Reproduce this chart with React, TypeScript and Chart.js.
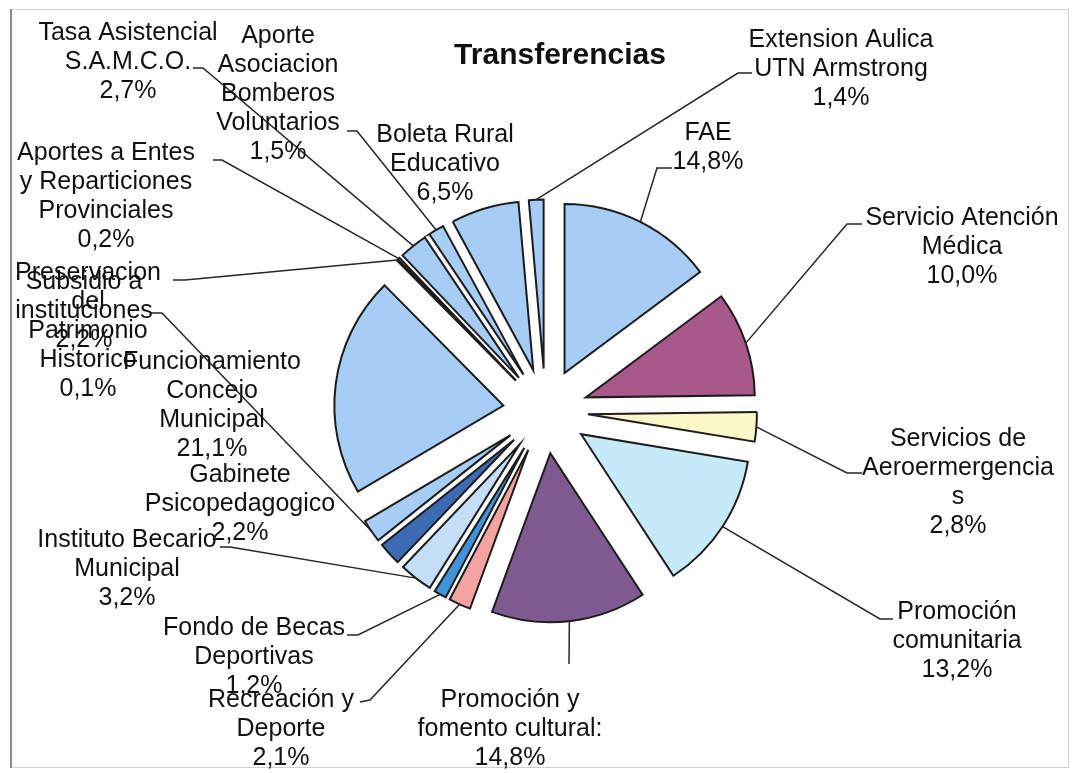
import React, { useEffect, useRef } from "react";
import { Chart, registerables } from "chart.js";

Chart.register(...registerables);

// ---- data ----
const categories: string[][] = [
  ["FAE"],
  ["Servicio Atención", "Médica"],
  ["Servicios de", "Aeroermergencia", "s"],
  ["Promoción", "comunitaria"],
  ["Promoción y", "fomento cultural:"],
  ["Recreación y", "Deporte"],
  ["Fondo de Becas", "Deportivas"],
  ["Instituto Becario", "Municipal"],
  ["Gabinete", "Psicopedagogico"],
  ["Subsidio a", "instituciones"],
  ["Funcionamiento", "Concejo", "Municipal"],
  ["Preservacion", "del", "Patrimonio", "Historico"],
  ["Aportes a Entes", "y Reparticiones", "Provinciales"],
  ["Tasa Asistencial", "S.A.M.C.O."],
  ["Aporte", "Asociacion", "Bomberos", "Voluntarios"],
  ["Boleta Rural", "Educativo"],
  ["Extension Aulica", "UTN Armstrong"],
];

const values: number[] = [14.8, 10.0, 2.8, 13.2, 14.8, 2.1, 1.2, 3.2, 2.2, 2.2, 21.1, 0.1, 0.2, 2.7, 1.5, 6.5, 1.4];

const TITLE = "Transferencias";

// ---- styles ----
const sliceColors: string[] = [
  "#A6CDF5", "#A8588A", "#FBF7C9", "#C6EAF8", "#7E5A90", "#F4A3A0", "#3F93D8", "#C4DEF7",
  "#3D6BB3", "#A6CDF5", "#A6CDF5", "#A6CDF5", "#A6CDF5", "#A6CDF5", "#A6CDF5", "#A6CDF5", "#A6CDF5",
];

// label layout: text centre x, first-line centre y
const labelPos: [number, number][] = [
  [708, 133], [962, 218], [958, 439], [957, 612], [510, 700], [281, 700], [254, 628], [127, 540],
  [240, 475], [84, 282], [212, 362], [88, 273], [106, 153], [128, 33], [278, 36], [445, 135], [841, 40],
];

// leader line: text-side point and bend point (null = no leader)
const leaderPts: ([number, number][] | null)[] = [
  [[672, 168], [657, 168]],
  [[862, 224], [847, 224]],
  [[862, 473], [847, 473]],
  [[893, 619], [880, 619]],
  [[569, 664], [569, 664]],
  [[360, 702], [370, 700]],
  [[347, 635], [358, 635]],
  [[220, 547], [230, 547]],
  null,
  [[150, 313], [162, 313]],
  null,
  [[173, 280], [185, 280]],
  [[213, 160], [222, 160]],
  [[193, 68], [203, 68]],
  [[347, 131], [357, 131]],
  null,
  [[752, 73], [738, 73]],
];

const EXPLODE = 42.5;
const LABEL_FONT = '25px "Liberation Sans", Arial, sans-serif';
const LINE_H = 29;

const pct = (v: number) => v.toFixed(1).replace(".", ",") + "%";

const explodePlugin = {
  id: "explode",
  beforeDatasetDraw(chart: any, args: any) {
    const meta = chart.getDatasetMeta(args.index);
    const ctx = chart.ctx;
    meta.data.forEach((arc: any) => {
      const mid = (arc.startAngle + arc.endAngle) / 2;
      ctx.save();
      ctx.translate(Math.cos(mid) * EXPLODE, Math.sin(mid) * EXPLODE);
      arc.draw(ctx);
      ctx.restore();
    });
    return false;
  },
};

const framePlugin = {
  id: "frame",
  beforeDraw(chart: any) {
    const ctx = chart.ctx;
    ctx.save();
    ctx.fillStyle = "#ffffff";
    ctx.fillRect(0, 0, chart.width, chart.height);
    ctx.strokeStyle = "#d0d0d0";
    ctx.lineWidth = 1;
    ctx.strokeRect(11.5, 9.5, 1057, 758);
    ctx.strokeStyle = "#8a8a8a";
    ctx.lineWidth = 2;
    ctx.beginPath();
    ctx.moveTo(11, 9);
    ctx.lineTo(11, 768);
    ctx.stroke();
    ctx.restore();
  },
};

const labelPlugin = {
  id: "pieLabels",
  afterDraw(chart: any) {
    const ctx = chart.ctx;
    const meta = chart.getDatasetMeta(0);
    ctx.save();
    // title
    ctx.fillStyle = "#111";
    ctx.font = 'bold 30px "Liberation Sans", Arial, sans-serif';
    ctx.textAlign = "center";
    ctx.textBaseline = "middle";
    ctx.fillText(TITLE, 560, 56);

    // leader lines
    ctx.strokeStyle = "#262626";
    ctx.lineWidth = 1.5;
    meta.data.forEach((arc: any, i: number) => {
      const pts = leaderPts[i];
      if (!pts) return;
      const mid = (arc.startAngle + arc.endAngle) / 2;
      const r = arc.outerRadius + EXPLODE;
      const ex = arc.x + Math.cos(mid) * r;
      const ey = arc.y + Math.sin(mid) * r;
      ctx.beginPath();
      ctx.moveTo(pts[0][0], pts[0][1]);
      ctx.lineTo(pts[1][0], pts[1][1]);
      ctx.lineTo(ex, ey);
      ctx.stroke();
    });

    // labels
    ctx.font = LABEL_FONT;
    ctx.fillStyle = "#111";
    categories.forEach((lines, i) => {
      const all = [...lines, pct(values[i])];
      const [x, y] = labelPos[i];
      all.forEach((t, k) => ctx.fillText(t, x, y + k * LINE_H));
    });
    ctx.restore();
  },
};

export default function App() {
  const canvasRef = useRef<HTMLCanvasElement | null>(null);

  useEffect(() => {
    if (!canvasRef.current) return;
    const chart = new Chart(canvasRef.current, {
      type: "pie",
      data: {
        labels: categories.map((l) => l.join(" ")),
        datasets: [
          {
            data: values,
            backgroundColor: sliceColors,
            borderColor: "#1c1c1c",
            borderWidth: 2,
            borderJoinStyle: "miter",
          } as any,
        ],
      },
      options: {
        responsive: true,
        maintainAspectRatio: false,
        animation: false,
        radius: 169,
        layout: { padding: { left: 115, right: 100, top: 100, bottom: 51 } },
        plugins: {
          legend: { display: false },
          tooltip: { enabled: false },
          title: { display: false },
        },
      } as any,
      plugins: [framePlugin, explodePlugin, labelPlugin],
    });
    return () => chart.destroy();
  }, []);

  return (
    <div style={{ position: "fixed", left: 0, top: 0, width: 1076, height: 773, background: "#fff" }}>
      <canvas ref={canvasRef} />
    </div>
  );
}
